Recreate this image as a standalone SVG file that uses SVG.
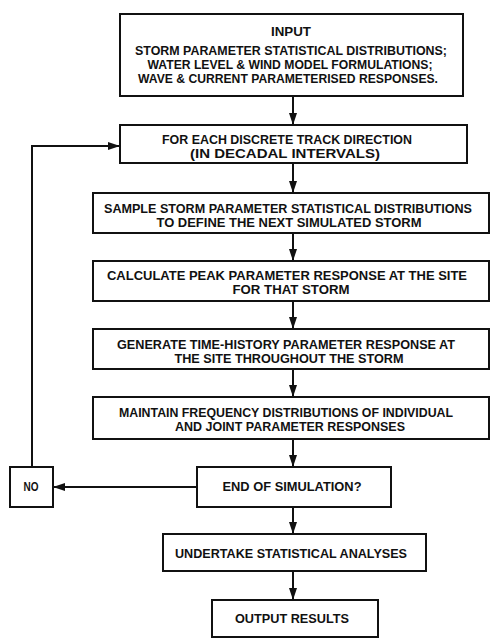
<svg xmlns="http://www.w3.org/2000/svg" width="491" height="638" viewBox="0 0 491 638">
<defs>
<marker id="ah" viewBox="0 0 12 8" refX="12" refY="4" markerWidth="12" markerHeight="8" orient="auto" markerUnits="userSpaceOnUse">
<path d="M0,0 L12,4 L0,8 z" fill="#111"/>
</marker>
<style>
rect{fill:#fff;stroke:#111;stroke-width:2}
text{font-family:"Liberation Sans",Arial,sans-serif;font-weight:bold;font-size:12.5px;fill:#111;text-anchor:middle}
.c{fill:none;stroke:#111;stroke-width:2}
</style>
</defs>
<rect x="0" y="0" width="491" height="638" style="stroke:none"/>
<g id="connectors">
<line class="c" x1="293" y1="96" x2="293" y2="125" marker-end="url(#ah)"/>
<line class="c" x1="293" y1="163" x2="293" y2="193" marker-end="url(#ah)"/>
<line class="c" x1="293" y1="233" x2="293" y2="261" marker-end="url(#ah)"/>
<line class="c" x1="293" y1="301" x2="293" y2="329" marker-end="url(#ah)"/>
<line class="c" x1="293" y1="369" x2="293" y2="397" marker-end="url(#ah)"/>
<line class="c" x1="293" y1="439" x2="293" y2="467" marker-end="url(#ah)"/>
<line class="c" x1="293" y1="507" x2="293" y2="534" marker-end="url(#ah)"/>
<line class="c" x1="293" y1="571" x2="293" y2="600" marker-end="url(#ah)"/>
<line class="c" x1="197" y1="487" x2="53" y2="487" marker-end="url(#ah)"/>
<polyline class="c" points="32,467 32,146 120,146" marker-end="url(#ah)"/>
</g>
<g id="input">
<rect x="120" y="14" width="343" height="82"/>
<text x="291" y="36" textLength="40" lengthAdjust="spacingAndGlyphs">INPUT</text>
<text x="291" y="55" textLength="312" lengthAdjust="spacingAndGlyphs">STORM PARAMETER STATISTICAL DISTRIBUTIONS;</text>
<text x="290" y="69" textLength="285" lengthAdjust="spacingAndGlyphs">WATER LEVEL &amp; WIND MODEL FORMULATIONS;</text>
<text x="288" y="83" textLength="300" lengthAdjust="spacingAndGlyphs">WAVE &amp; CURRENT PARAMETERISED RESPONSES.</text>
</g>
<g id="track">
<rect x="120" y="125" width="347" height="38"/>
<text x="287" y="144" textLength="250" lengthAdjust="spacingAndGlyphs">FOR EACH DISCRETE TRACK DIRECTION</text>
<text x="285" y="158" textLength="190" lengthAdjust="spacingAndGlyphs">(IN DECADAL INTERVALS)</text>
</g>
<g id="sample">
<rect x="93" y="193" width="396" height="40"/>
<text x="288" y="213" textLength="368" lengthAdjust="spacingAndGlyphs">SAMPLE STORM PARAMETER STATISTICAL DISTRIBUTIONS</text>
<text x="289" y="227" textLength="265" lengthAdjust="spacingAndGlyphs">TO DEFINE THE NEXT SIMULATED STORM</text>
</g>
<g id="calculate">
<rect x="93" y="261" width="396" height="40"/>
<text x="287" y="280" textLength="360" lengthAdjust="spacingAndGlyphs">CALCULATE PEAK PARAMETER RESPONSE AT THE SITE</text>
<text x="291" y="294" textLength="117" lengthAdjust="spacingAndGlyphs">FOR THAT STORM</text>
</g>
<g id="generate">
<rect x="93" y="329" width="396" height="40"/>
<text x="286" y="349" textLength="338" lengthAdjust="spacingAndGlyphs">GENERATE TIME-HISTORY PARAMETER RESPONSE AT</text>
<text x="289" y="363" textLength="229" lengthAdjust="spacingAndGlyphs">THE SITE THROUGHOUT THE STORM</text>
</g>
<g id="maintain">
<rect x="93" y="397" width="396" height="42"/>
<text x="286" y="417" textLength="334" lengthAdjust="spacingAndGlyphs">MAINTAIN FREQUENCY DISTRIBUTIONS OF INDIVIDUAL</text>
<text x="290" y="431" textLength="230" lengthAdjust="spacingAndGlyphs">AND JOINT PARAMETER RESPONSES</text>
</g>
<g id="end">
<rect x="197" y="467" width="194" height="40"/>
<text x="292" y="491" textLength="139" lengthAdjust="spacingAndGlyphs">END OF SIMULATION?</text>
</g>
<g id="no">
<rect x="10" y="467" width="43" height="40"/>
<text x="31" y="491" textLength="15" lengthAdjust="spacingAndGlyphs">NO</text>
</g>
<g id="undertake">
<rect x="163" y="534" width="263" height="37"/>
<text x="291" y="558" textLength="232" lengthAdjust="spacingAndGlyphs">UNDERTAKE STATISTICAL ANALYSES</text>
</g>
<g id="output">
<rect x="212" y="600" width="166" height="37"/>
<text x="292" y="623" textLength="114" lengthAdjust="spacingAndGlyphs">OUTPUT RESULTS</text>
</g>
</svg>
